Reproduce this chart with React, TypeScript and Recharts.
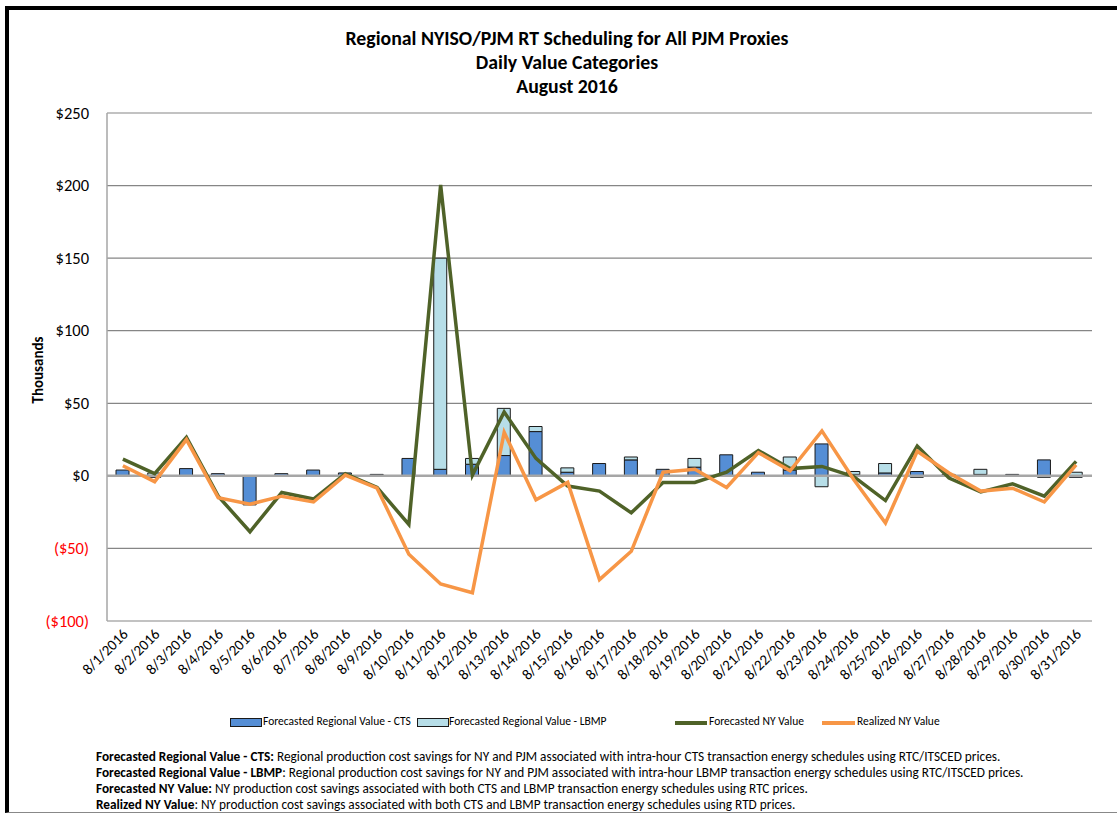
import { Bar, ComposedChart, CartesianGrid, Line, ReferenceLine, XAxis, YAxis } from "recharts"

const dates: string[] = [
	'8/1/2016', '8/2/2016', '8/3/2016', '8/4/2016', '8/5/2016', '8/6/2016', '8/7/2016', '8/8/2016',
	'8/9/2016', '8/10/2016', '8/11/2016', '8/12/2016', '8/13/2016', '8/14/2016', '8/15/2016', '8/16/2016',
	'8/17/2016', '8/18/2016', '8/19/2016', '8/20/2016', '8/21/2016', '8/22/2016', '8/23/2016', '8/24/2016',
	'8/25/2016', '8/26/2016', '8/27/2016', '8/28/2016', '8/29/2016', '8/30/2016', '8/31/2016',
]

// values in thousands of $
const ctsValue: number[] = [
	4, -1, 5, 1.5, -20, 1.5, 4, 2, 1, 12, 4.5, 8, 14, 30.5, 2.5, 8.5,
	11, 4.5, 6, 14.5, 2.5, 4, 22, 1, 2, 3, 1, 1, 1, 11, -1,
]
const lbmpValue: number[] = [
	0, 2, 0, 0, 0, 0, 0, 0, 0, 0, 145.5, 4, 32.5, 3.5, 3, 0,
	2, 0, 6, 0, 0, 9, -7.5, 2, 6.5, -1, 0, 3.5, 0, -1, 2.5,
]
const forecastNY: number[] = [
	11.5, 1.5, 26.5, -14, -38.5, -11.5, -16, 1.5, -8, -33.5, 200.5, 0.5, 44, 12, -7, -10.5,
	-25.5, -4.5, -4.5, 2.5, 17.5, 5, 6.5, -0.5, -17, 20.5, -1.5, -11, -5.5, -14, 10,
]
const realizedNY: number[] = [
	7, -4, 25, -15, -19.5, -14, -18, 0.5, -8.5, -54, -74.5, -80.5, 30, -16.5, -4.5, -71.5,
	-52, 2.5, 4.5, -8, 16, 3.5, 31, -2.5, -32.5, 17, 2, -10.5, -8.5, -18, 7.5,
]
const yTicks: number[] = [-100, -50, 0, 50, 100, 150, 200, 250]

const FONT = "Carlito, 'Liberation Sans Narrow', Roboto, 'Liberation Sans', sans-serif"

const data = dates.map((d, i) => ({
	date: d,
	cts: ctsValue[i],
	lbmp: lbmpValue[i],
	fny: forecastNY[i],
	rny: realizedNY[i],
}))

const YTick = (props: any) => {
	const { x, y, payload } = props
	const v: number = payload.value
	const label = v < 0 ? `($${-v})` : `$${v}`
	return (
		<text x={x - 10} y={y} dy={5.5} textAnchor='end' fontSize={16.5} fontFamily={FONT} fill={v < 0 ? '#FF0000' : '#000'}>
			{label}
		</text>
	)
}

const XTick = (props: any) => {
	const { x, y, payload } = props
	return (
		<g transform={`translate(${x + 6},${y + 6})`}>
			<text textAnchor='end' fontSize={15} fontFamily={FONT} fill='#000' transform='rotate(-45)'>
				{payload.value}
			</text>
		</g>
	)
}

const notes: [string, string][] = [
	['Forecasted Regional Value - CTS:', ' Regional production cost savings for NY and PJM associated with intra-hour CTS transaction energy schedules using RTC/ITSCED prices.'],
	['Forecasted Regional Value - LBMP', ': Regional production cost savings for NY and PJM associated with intra-hour LBMP transaction energy schedules using RTC/ITSCED prices.'],
	['Forecasted NY Value:', ' NY production cost savings associated with both CTS and LBMP transaction energy schedules using RTC prices.'],
	['Realized NY Value', ': NY production cost savings associated with both CTS and LBMP transaction energy schedules using RTD prices.'],
]

const App = () => {
	return (
		<div style={{ position: 'relative', width: 1117, height: 814, background: '#fff', fontFamily: FONT, overflow: 'hidden' }}>
			<style>{`body{margin:0}`}</style>
			<div style={{ position: 'absolute', left: 5, top: 6, right: -10, bottom: 1, borderLeft: '4px solid #000', borderTop: '4px solid #000', borderBottom: '1px solid #888' }} />
			<div style={{ position: 'absolute', left: 0, width: 1134, top: 26, textAlign: 'center', fontWeight: 'bold', fontSize: 19.8, lineHeight: '24px' }}>
				<div>Regional NYISO/PJM RT Scheduling for All PJM Proxies</div>
				<div>Daily Value Categories</div>
				<div>August 2016</div>
			</div>
			<div style={{ position: 'absolute', left: 38, top: 370, transform: 'translate(-50%,-50%) rotate(-90deg)', fontWeight: 'bold', fontSize: 15 }}>
				Thousands
			</div>
			<div style={{ position: 'absolute', left: 0, top: 0 }}>
				<ComposedChart width={1117} height={700} data={data} stackOffset='sign' margin={{ top: 113, right: 25, left: 47, bottom: 4 }}>
					<CartesianGrid vertical={false} stroke='#868686' strokeWidth={1.2} />
					<XAxis dataKey='date' interval={0} height={75} axisLine={false} tickLine={false} tick={<XTick />} />
					<YAxis width={60} domain={[-100, 250]} ticks={yTicks} axisLine={{ stroke: '#A6A6A6', strokeWidth: 1.5 }} tickLine={false} tick={<YTick />} />
					<ReferenceLine y={0} stroke='#A6A6A6' strokeWidth={2.5} />
					<Bar dataKey='cts' stackId='a' fill='#558ED5' stroke='#1a1a1a' strokeWidth={1} barSize={13} isAnimationActive={false} />
					<Bar dataKey='lbmp' stackId='a' fill='#B7DEE8' stroke='#1a1a1a' strokeWidth={1} barSize={13} isAnimationActive={false} />
					<Line dataKey='fny' stroke='#4F6228' strokeWidth={3.5} dot={false} isAnimationActive={false} />
					<Line dataKey='rny' stroke='#F79646' strokeWidth={3.5} dot={false} isAnimationActive={false} />
				</ComposedChart>
			</div>
			<div style={{ position: 'absolute', top: 714, left: 0, fontSize: 11.5 }}>
				<div style={{ position: 'absolute', left: 230, top: 4, width: 30, height: 7, background: '#558ED5', border: '1px solid #1a1a1a' }} />
				<div style={{ position: 'absolute', left: 263, top: 0, whiteSpace: 'nowrap' }}>Forecasted Regional Value - CTS</div>
				<div style={{ position: 'absolute', left: 417, top: 4, width: 30, height: 7, background: '#B7DEE8', border: '1px solid #1a1a1a' }} />
				<div style={{ position: 'absolute', left: 449, top: 0, whiteSpace: 'nowrap' }}>Forecasted Regional Value - LBMP</div>
				<div style={{ position: 'absolute', left: 675, top: 7, width: 32, height: 3.5, background: '#4F6228' }} />
				<div style={{ position: 'absolute', left: 709, top: 0, whiteSpace: 'nowrap' }}>Forecasted NY Value</div>
				<div style={{ position: 'absolute', left: 822, top: 7, width: 33, height: 3.5, background: '#F79646' }} />
				<div style={{ position: 'absolute', left: 857, top: 0, whiteSpace: 'nowrap' }}>Realized NY Value</div>
			</div>
			<div style={{ position: 'absolute', top: 749, left: 96, fontSize: 13.3, lineHeight: '16px', whiteSpace: 'nowrap' }}>
				{notes.map(([b, t], i) => (
					<div key={i}><b>{b}</b>{t}</div>
				))}
			</div>
		</div>
	)
}

export default App
